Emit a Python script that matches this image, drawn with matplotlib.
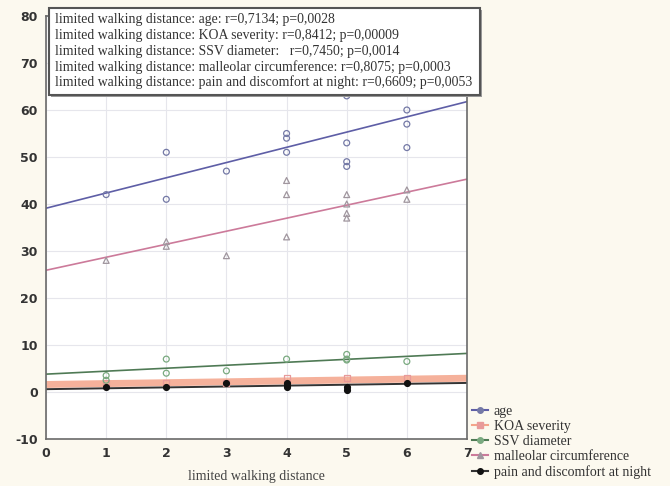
import matplotlib
matplotlib.use('Agg')
import matplotlib.pyplot as plt
import numpy as np
from matplotlib.patches import Rectangle

plt.rcParams['axes.unicode_minus'] = False

# scatter data
age_x = [1, 2, 2, 3, 4, 4, 4, 5, 5, 5, 5, 6, 6, 6]
age_y = [42, 51, 41, 47, 55, 54, 51, 63, 53, 49, 48, 60, 57, 52]
koa_x = [1, 2, 3, 4, 5, 6]
koa_y = [2, 2, 2, 3, 3, 3]
ssv_x = [1, 1, 2, 2, 3, 4, 5, 5, 5, 6]
ssv_y = [2.5, 3.5, 7, 4, 4.5, 7, 8, 7, 6.8, 6.5]
mall_x = [1, 2, 2, 3, 4, 4, 4, 5, 5, 5, 5, 6, 6]
mall_y = [28, 31, 32, 29, 45, 42, 33, 42, 40, 38, 37, 43, 41]
pain_x = [1, 2, 3, 4, 4, 4, 5, 5, 6]
pain_y = [1, 1, 2, 2, 1.5, 1, 1, 0.5, 2]

# regression lines (intercept, slope)
fit_intercept = [39.1, 1.6, 3.8, 25.9, 0.6]
fit_slope = [3.24, 0.19, 0.63, 2.77, 0.19]

labels = ['age', 'KOA severity', 'SSV diameter',
          'malleolar circumference', 'pain and discomfort at night']
stats_text = [
    'limited walking distance: age: r=0,7134; p=0,0028',
    'limited walking distance: KOA severity: r=0,8412; p=0,00009',
    'limited walking distance: SSV diameter:   r=0,7450; p=0,0014',
    'limited walking distance: malleolar circumference: r=0,8075; p=0,0003',
    'limited walking distance: pain and discomfort at night: r=0,6609; p=0,0053',
]

fig = plt.figure(figsize=(6.7, 4.86), dpi=100, facecolor='#fcf9ef')
ax = fig.add_axes([46 / 670, 1 - 439 / 486, 421 / 670, 423 / 486])
ax.set_facecolor('white')

xs = [age_x, koa_x, ssv_x, mall_x, pain_x]
ys = [age_y, koa_y, ssv_y, mall_y, pain_y]
line_colors = ['#5e5ea6', '#f4a48a', '#4f7a55', '#cc7a9a', '#333333']
line_widths = [1.2, 5, 1.2, 1.2, 1.4]
mk = ['o', 's', 'o', '^', 'o']
mk_edge = ['#7479a6', '#e89a9a', '#7aaa80', '#a0969e', '#111111']
mk_face = ['none', 'none', 'none', 'none', '#111111']

xx = np.array([0, 7])
handles = []
for i in range(5):
    ax.plot(xx, fit_intercept[i] + fit_slope[i] * xx, color=line_colors[i],
            lw=line_widths[i], alpha=0.85 if i == 1 else 1, zorder=2)
    ax.scatter(xs[i], ys[i], marker=mk[i], s=18, facecolors=mk_face[i],
               edgecolors=mk_edge[i], linewidths=0.9, zorder=3)
    h, = ax.plot([], [], color=line_colors[i], lw=1.5, marker=mk[i], ms=4,
                 mfc=mk_edge[i], mec=mk_edge[i])
    handles.append(h)

ax.set_xlim(0, 7)
ax.set_ylim(-10, 80)
ax.set_xticks(range(0, 8))
ax.set_yticks(range(-10, 81, 10))
ax.grid(True, color='#e6e6ec', lw=0.8)
ax.set_axisbelow(True)
ax.tick_params(length=0, labelsize=9, colors='#333333', pad=6)
for lab in ax.get_xticklabels() + ax.get_yticklabels():
    lab.set_fontweight('bold')
for s in ax.spines.values():
    s.set_color('#6a6a6a')
    s.set_linewidth(1.2)
ax.set_xlabel('limited walking distance', family='Liberation Serif',
              fontsize=10, color='#444444', labelpad=7)

# stats box with shadow
fig.patches.append(Rectangle((51 / 670, 1 - 97 / 486), 431 / 670, 87 / 486,
                             transform=fig.transFigure, facecolor='#9a9a9a',
                             edgecolor='none', zorder=4))
fig.patches.append(Rectangle((49 / 670, 1 - 95 / 486), 431 / 670, 87 / 486,
                             transform=fig.transFigure, facecolor='white',
                             edgecolor='#555555', lw=1.5, zorder=5))
for i, t in enumerate(stats_text):
    fig.text(55 / 670, 1 - (20 + 15.6 * i) / 486, t, family='Liberation Serif',
             fontsize=9.9, color='#333333', va='center', zorder=6)

leg = fig.legend(handles, labels, loc='upper left',
                 bbox_to_anchor=(466 / 670, 1 - 399 / 486), frameon=False,
                 prop={'family': 'Liberation Serif', 'size': 10},
                 handlelength=1.2, handletextpad=0.4, labelspacing=0.15,
                 borderaxespad=0)
for t in leg.get_texts():
    t.set_color('#333333')

fig.savefig('out.png', dpi=100, facecolor=fig.get_facecolor())
